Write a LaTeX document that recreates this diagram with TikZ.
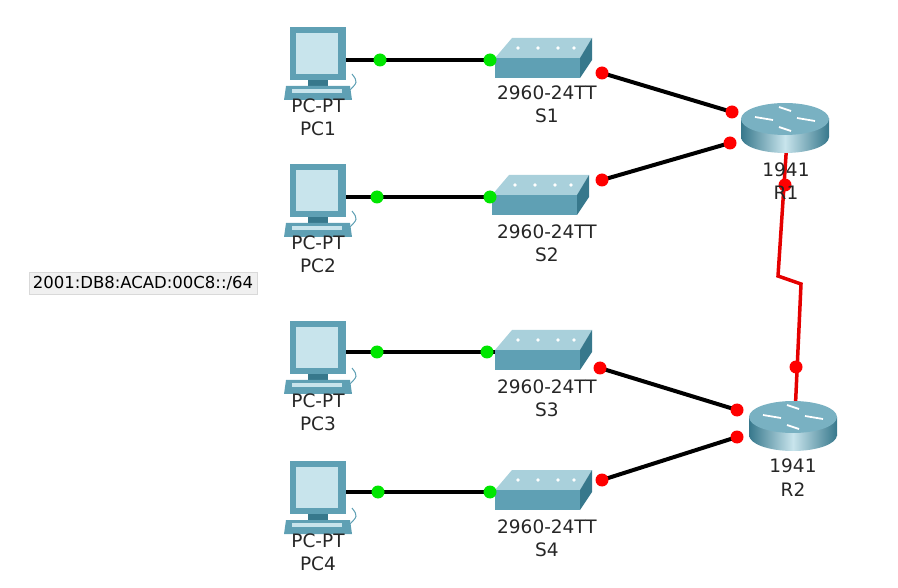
\documentclass[tikz,border=0pt]{standalone}
\usepackage{fontspec}
\setmainfont{DejaVu Sans}
\usetikzlibrary{positioning}
\definecolor{devteal}{RGB}{95,160,180}
\definecolor{devdark}{RGB}{55,120,140}
\definecolor{devlight}{RGB}{200,228,236}
\definecolor{linkgreen}{RGB}{0,230,0}
\tikzset{
  lbl/.style={font=\fontsize{18.5}{20}\selectfont, text=black!85, inner sep=0pt},
  cable/.style={line width=4pt, black},
  serial/.style={line width=3.5pt, red!90!black},
  okdot/.style={fill=linkgreen, circle, inner sep=0pt, minimum size=13pt},
  downdot/.style={fill=red, circle, inner sep=0pt, minimum size=13pt},
  netbox/.style={fill=black!6, draw=black!15, font=\fontsize{16.5}{18}\selectfont, inner xsep=4pt, inner ysep=4pt}
}
\newcommand{\pcicon}[2]{% name, position
  \coordinate (#1) at #2;
  \begin{scope}[shift={#2}]
    \fill[devteal] (-28,-35) rectangle (28,18);
    \fill[devlight] (-22,-29) rectangle (20,12);
    \fill[devdark] (-10,18) rectangle (10,24);
    \fill[devteal] (-32,24) -- (32,24) -- (34,38) -- (-34,38) -- cycle;
    \fill[devlight] (-26,27) rectangle (24,31);
    \draw[devteal, line width=1pt] (30,30) .. controls (40,20) .. (34,12);
  \end{scope}}
\newcommand{\swicon}[2]{%
  \coordinate (#1) at #2;
  \begin{scope}[shift={#2}]
    \fill[devlight!70!devteal] (-45,-2) -- (-28,-22) -- (52,-22) -- (40,-2) -- cycle;
    \fill[devteal] (-45,-2) rectangle (40,18);
    \fill[devdark] (40,-2) -- (52,-22) -- (52,0) -- (40,18) -- cycle;
    \foreach \dx in {-22,-2,18,34} \fill[white] (\dx,-12) circle (1.8);
  \end{scope}}
\newcommand{\rticon}[2]{%
  \coordinate (#1) at #2;
  \begin{scope}[shift={#2}]
    \shade[left color=devdark, right color=devdark, middle color=devlight] (0,12) ellipse (44 and 16);
    \shade[left color=devdark, right color=devdark, middle color=devlight] (-44,-6) rectangle (44,12);
    \fill[devteal!75!devlight] (0,-6) ellipse (44 and 16);
    \draw[white, line width=1.8pt] (-30,-8) -- (-12,-5) (12,-7) -- (30,-4) (-6,-18) -- (6,-14) (-6,2) -- (6,6);
  \end{scope}}
\begin{document}
\begin{tikzpicture}[x=1pt,y=-1pt]
\useasboundingbox (0,0) rectangle (898,588);
% links first
\coordinate (s1r) at (602,73); \coordinate (r1a) at (732,112);
\coordinate (s2r) at (602,180); \coordinate (r1b) at (730,143);
\coordinate (s3r) at (600,368); \coordinate (r2a) at (737,410);
\coordinate (s4r) at (602,480); \coordinate (r2b) at (737,437);
\draw[cable] (340,60) -- (500,60);
\draw[cable] (340,197) -- (500,197);
\draw[cable] (340,352) -- (500,352);
\draw[cable] (340,492) -- (500,492);
\draw[cable] (s1r) -- (r1a);
\draw[cable] (s2r) -- (r1b);
\draw[cable] (s3r) -- (r2a);
\draw[cable] (s4r) -- (r2b);
% serial link
\coordinate (zz1) at (778,276); \coordinate (zz2) at (801,284);
\draw[serial] (787,140) -- (zz1) -- (zz2) -- (795,415);
% devices
\pcicon{pc1}{(318,62)}
\pcicon{pc2}{(318,199)}
\pcicon{pc3}{(318,356)}
\pcicon{pc4}{(318,496)}
\swicon{s1}{(540,60)}
\swicon{s2}{(537,197)}
\swicon{s3}{(540,352)}
\swicon{s4}{(540,492)}
\rticon{r1}{(785,125)}
\rticon{r2}{(793,423)}
% dots
\foreach \p in {(380,60),(490,60),(377,197),(490,197),(377,352),(487,352),(378,492),(490,492)}
  \node[okdot] at \p {};
\foreach \p in {s1r,r1a,s2r,r1b,s3r,r2a,s4r,r2b}
  \node[downdot] at (\p) {};
\node[downdot] at (785,185) {};
\node[downdot] at (796,367) {};
% labels
\foreach \n/\y/\t in {1/106/PC1,2/243/PC2,3/401/PC3,4/541/PC4}{
  \node[lbl] at (318,\y) {PC-PT};
  \node[lbl] at (318,\y+23) {\t};}
\foreach \y/\t/\xx in {93/S1/547,232/S2/547,387/S3/547,527/S4/547}{
  \node[lbl] at (\xx,\y) {2960-24TT};
  \node[lbl] at (\xx,\y+23) {\t};}
\node[lbl] at (786,170) {1941};
\node[lbl] at (786,193) {R1};
\node[lbl] at (793,466) {1941};
\node[lbl] at (793,490) {R2};
\node[netbox] (net) at (143,283) {2001:DB8:ACAD:00C8::/64};
\end{tikzpicture}
\end{document}
